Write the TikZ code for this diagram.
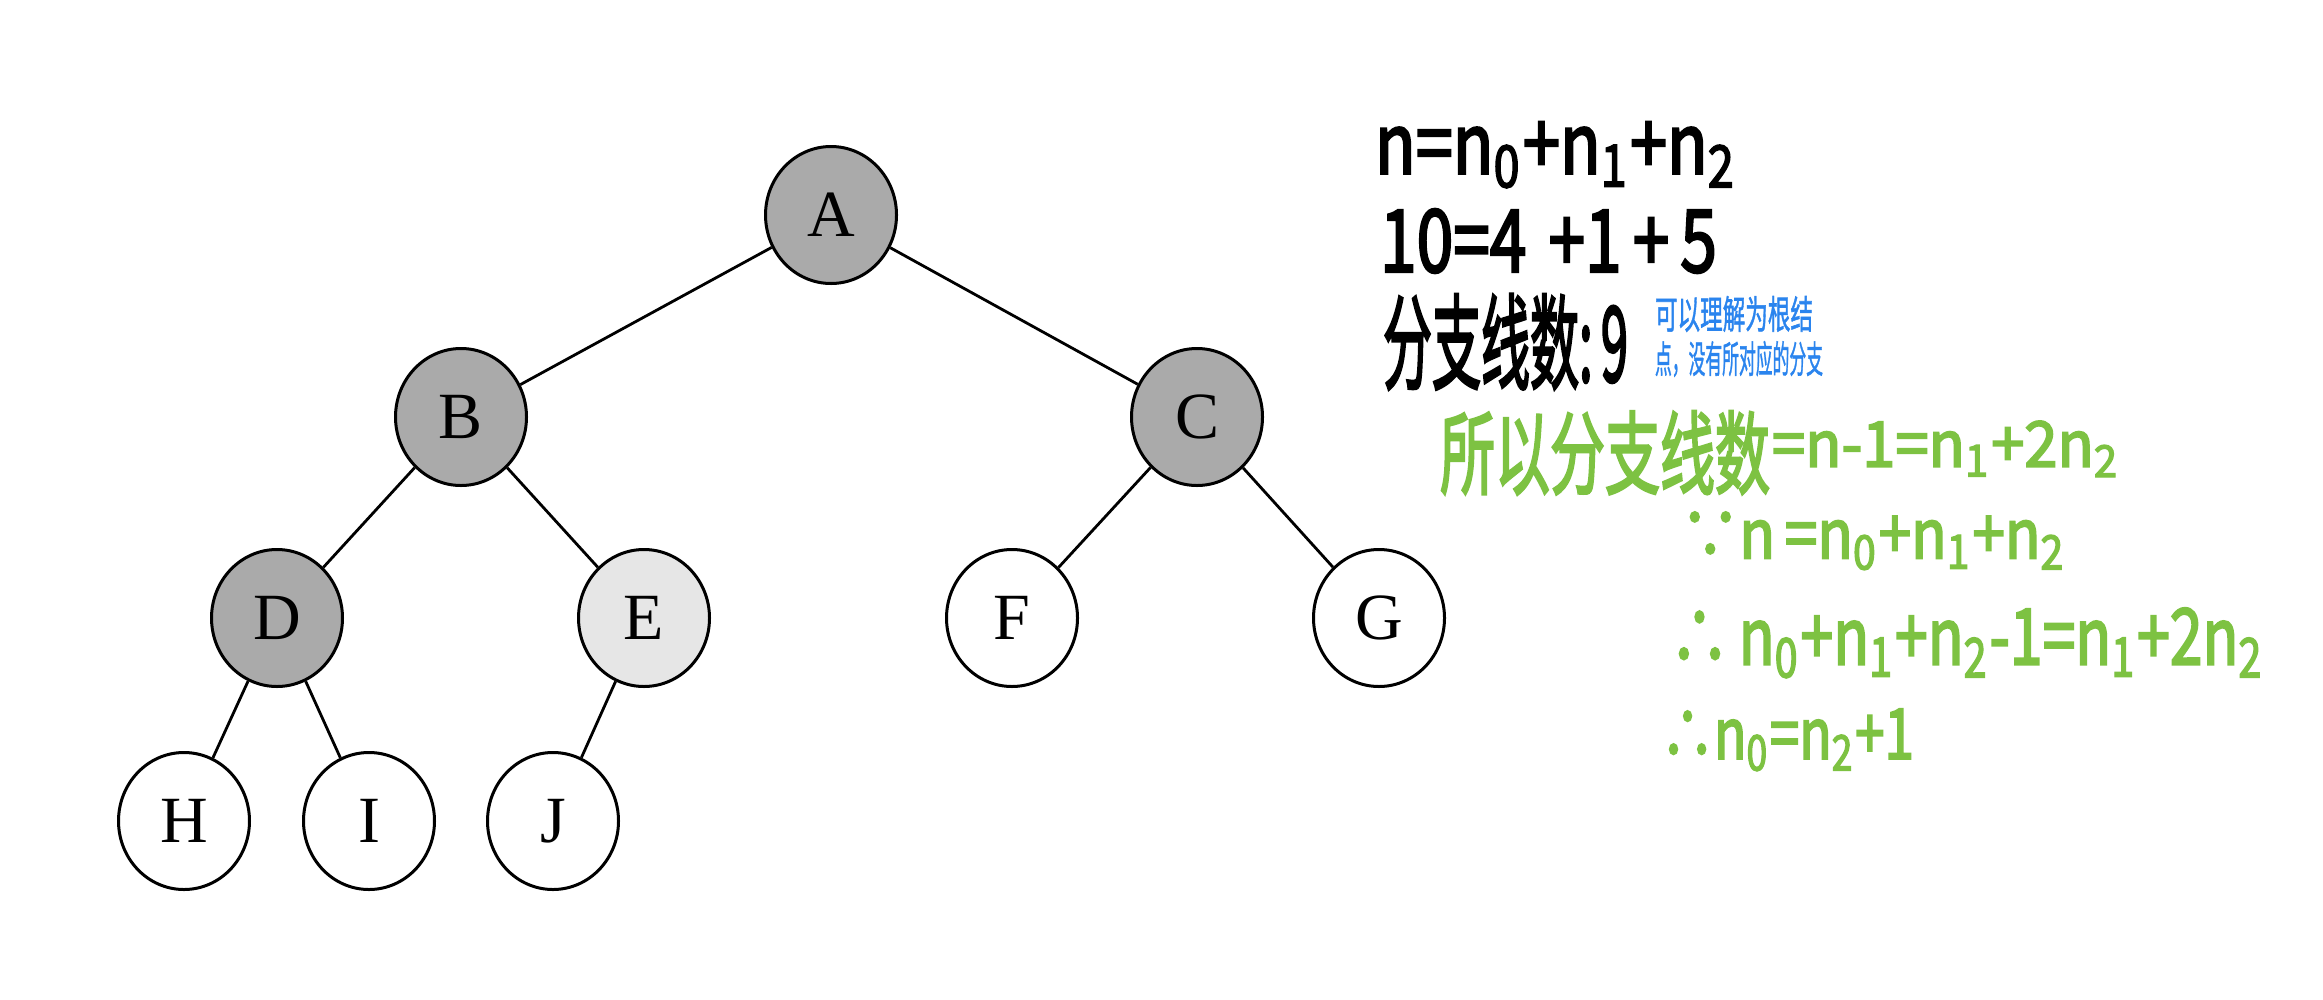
\documentclass[tikz,border=0pt]{standalone}
\usepackage{fontspec}
\usepackage{graphicx}
\setmainfont{Liberation Serif}
\newfontfamily\hand{Noto Sans CJK SC}[FakeBold=3]
\newfontfamily\handthin{Noto Sans CJK SC}[FakeBold=1.5]
\usetikzlibrary{shapes.geometric}
\definecolor{darkfill}{HTML}{AAAAAA}
\definecolor{lightfill}{HTML}{E6E6E6}
\definecolor{penGreen}{HTML}{7DC242}
\definecolor{penBlue}{HTML}{2A84EE}
\newcommand\fitbox[3]{\resizebox*{#1pt}{#2pt}{#3}}
\newcommand\sbs[1]{\textsubscript{#1}}
\begin{document}
\begin{tikzpicture}[x=1pt,y=-1pt,
  treenode/.style={ellipse, draw=black, line width=3pt, minimum width=131pt, minimum height=137pt, inner sep=0pt, font=\fontsize{66}{66}\selectfont},
  darknode/.style={treenode, fill=darkfill},
  lightnode/.style={treenode, fill=lightfill},
  whitenode/.style={treenode, fill=white},
  treeedge/.style={line width=2.8pt, draw=black},
  hw/.style={anchor=west, inner sep=0pt, outer sep=0pt},
  blk/.style={hw, text=black, font=\hand},
  grn/.style={hw, text=penGreen, font=\hand},
  blu/.style={hw, text=penBlue, font=\handthin},
]
\fill[white] (0,0) rectangle (2323,999);
\useasboundingbox (0,0) rectangle (2323,999);

% tree
\node[darknode] (A) at (831,215) {A};
\node[darknode] (B) at (461,417) {B};
\node[darknode] (C) at (1197,417) {C};
\node[darknode] (D) at (277,618) {D};
\node[lightnode] (E) at (644,618) {E};
\node[whitenode] (F) at (1012,618) {F};
\node[whitenode] (G) at (1379,618) {G};
\node[whitenode] (H) at (184,821) {H};
\node[whitenode] (I) at (369,821) {I};
\node[whitenode] (J) at (553,821) {J};

\draw[treeedge] (A) -- (B);
\draw[treeedge] (A) -- (C);
\draw[treeedge] (B) -- (D);
\draw[treeedge] (B) -- (E);
\draw[treeedge] (C) -- (F);
\draw[treeedge] (C) -- (G);
\draw[treeedge] (D) -- (H);
\draw[treeedge] (D) -- (I);
\draw[treeedge] (E) -- (J);

% black notes
\node[blk] (k1) at (1375,155) {\fitbox{362}{66}{n=n\sbs{0}+n\sbs{1}+n\sbs{2}}};
\node[blk] (k2) at (1380,241) {\fitbox{337}{64}{10=4\,\,+1\,+\,5}};
\node[blk] (k3) at (1383,342) {\fitbox{245}{96}{分支线数:\,9}};

% blue note
\node[blu] (b1) at (1655,314) {\fitbox{158}{36}{可以理解为根结}};
\node[blu] (b2) at (1655,359) {\fitbox{168}{36}{点，没有所对应的分支}};

% green notes
\node[grn] (g1a) at (1440,453) {\fitbox{330}{84}{所以分支线数}};
\node[grn] (g1b) at (1772,449) {\fitbox{348}{56}{=n-1=n\sbs{1}+2n\sbs{2}}};
\node[grn] (g2) at (1681,541) {\fitbox{385}{58}{∵n\,=n\sbs{0}+n\sbs{1}+n\sbs{2}}};
\node[grn] (g3) at (1670,643) {\fitbox{594}{70}{∴\,n\sbs{0}+n\sbs{1}+n\sbs{2}-1=n\sbs{1}+2n\sbs{2}}};
\node[grn] (g4) at (1661,740) {\fitbox{253}{62}{∴n\sbs{0}=n\sbs{2}+1}};
\end{tikzpicture}
\end{document}
